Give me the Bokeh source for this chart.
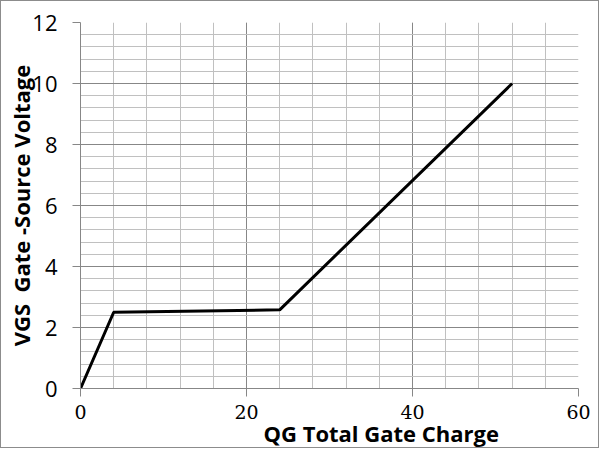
from bokeh.plotting import figure
from bokeh.models import SingleIntervalTicker, Title, Range1d
from bokeh.embed import file_html
from bokeh.resources import INLINE

# data
qg = [0, 4, 24, 52]
vgs = [0, 2.5, 2.58, 10]
x_title = "QG Total Gate Charge"
y_title = "VGS\u00a0 Gate -Source Voltage"

p = figure(width=599, height=448, output_backend="svg", toolbar_location=None,
           x_range=Range1d(0, 60), y_range=Range1d(0, 12),
           min_border_left=79, min_border_top=21, min_border_right=22, min_border_bottom=61)
p.styles = {"border": "1px solid #8c8c8c"}
p.outline_line_color = None
p.background_fill_color = "white"
p.border_fill_color = "white"

xt = SingleIntervalTicker(interval=20, num_minor_ticks=5)
yt = SingleIntervalTicker(interval=2, num_minor_ticks=5)
p.xaxis.ticker = xt
p.yaxis.ticker = yt
p.xgrid.ticker = xt
p.ygrid.ticker = yt

for g in (p.xgrid, p.ygrid):
    g.grid_line_color = "#878787"
    g.grid_line_width = 1
    g.minor_grid_line_color = "#c0c0c0"
    g.minor_grid_line_width = 1

for ax in (p.xaxis, p.yaxis):
    ax.axis_line_color = "#878787"
    ax.major_tick_line_color = "#878787"
    ax.minor_tick_line_color = None
    ax.major_tick_in = 0
    ax.major_tick_out = 8
    ax.major_label_text_color = "black"

p.yaxis.major_label_text_font = "Open Sans"
p.yaxis.major_label_text_font_size = "22px"
p.yaxis.major_label_standoff = 15
p.xaxis.major_label_text_font = "DejaVu Serif"
p.xaxis.major_label_text_font_size = "19px"
p.xaxis.major_label_standoff = 8

p.yaxis.axis_label = y_title
p.yaxis.axis_label_text_font = "Open Sans"
p.yaxis.axis_label_text_font_style = "bold"
p.yaxis.axis_label_text_font_size = "22px"
p.yaxis.axis_label_text_color = "black"
p.yaxis.axis_label_standoff = -7

p.add_layout(Title(text=x_title, text_font="Open Sans", text_font_style="bold",
                   text_font_size="22px", text_color="black", align="left",
                   vertical_align="top", offset=183, standoff=-8), "below")

p.line(qg, vgs, line_color="black", line_width=3)

open("out.html", "w").write(file_html(p, INLINE))
